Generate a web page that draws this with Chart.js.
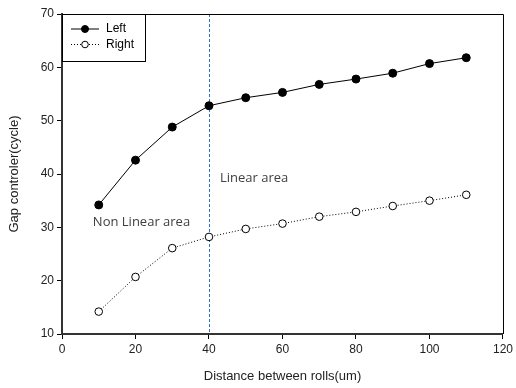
<!DOCTYPE html>
<html><head><meta charset="utf-8">
<script src="https://cdn.jsdelivr.net/npm/chart.js@4/dist/chart.umd.min.js"></script>
<style>html,body{margin:0;padding:0;background:#fff}#w{width:516px;height:388px}</style>
</head><body><div id="w"><canvas id="c" width="516" height="388"></canvas></div>
<script>
const distances = [10,20,30,40,50,60,70,80,90,100,110];
const leftValues = [34.2,42.6,48.8,52.8,54.3,55.3,56.8,57.8,58.9,60.7,61.8];
const rightValues = [14.2,20.7,26.1,28.2,29.7,30.7,32.0,32.9,34.0,35.0,36.1];
const xTicks = [0,20,40,60,80,100,120];
const yTicks = [10,20,30,40,50,60,70];
const boundaryX = 40;
const annotations = [{text:'Linear area', x:43, y:39.2},{text:'Non Linear area', x:8.4, y:31.0}];

const font = 'Liberation Sans, Arial, sans-serif';
const mk = (xs, ys) => xs.map((x,i)=>({x, y: ys[i]}));

const overlay = {
  id:'overlay',
  beforeDatasetsDraw(chart){
    const {ctx, chartArea:a, scales:{x}} = chart;
    ctx.save();
    const bx = Math.round(x.getPixelForValue(boundaryX))+0.5;
    ctx.strokeStyle='#2f6fd0'; ctx.lineWidth=1; ctx.setLineDash([3,2]);
    ctx.beginPath(); ctx.moveTo(bx, a.top); ctx.lineTo(bx, a.bottom); ctx.stroke();
    ctx.restore();
  },
  afterDatasetsDraw(chart){
    const {ctx, chartArea:a, scales:{x,y}} = chart;
    ctx.save();
    ctx.strokeStyle='#000'; ctx.lineWidth=1;
    ctx.beginPath();
    ctx.moveTo(a.left, a.top+0.5); ctx.lineTo(a.right+0.5, a.top+0.5); ctx.lineTo(a.right+0.5, a.bottom);
    ctx.stroke();
    ctx.fillStyle='#404040'; ctx.font='13px "Open Sans", Calibri, sans-serif';
    ctx.textBaseline='middle'; ctx.textAlign='left';
    annotations.forEach(t=>ctx.fillText(t.text, x.getPixelForValue(t.x), y.getPixelForValue(t.y)));
    const lx=a.left, ly=a.top, lw=83, lh=47;
    ctx.fillStyle='#fff'; ctx.fillRect(lx,ly,lw,lh);
    ctx.strokeStyle='#000'; ctx.lineWidth=1;
    ctx.strokeRect(lx+0.5, ly+0.5, lw, lh);
    ctx.font='12px '+font; ctx.fillStyle='#000';
    chart.data.datasets.forEach((ds,i)=>{
      const cy = ly + 15 + i*15.5;
      ctx.strokeStyle='#000'; ctx.lineWidth=1;
      ctx.setLineDash(ds.borderDash||[]);
      ctx.beginPath(); ctx.moveTo(lx+9, cy); ctx.lineTo(lx+37, cy); ctx.stroke();
      ctx.setLineDash([]);
      ctx.beginPath(); ctx.arc(lx+23, cy, ds.pointRadius-0.5, 0, Math.PI*2);
      ctx.fillStyle=ds.pointBackgroundColor; ctx.fill(); ctx.stroke();
      ctx.fillStyle='#000'; ctx.fillText(ds.label, lx+44, cy);
    });
    ctx.restore();
  }
};

new Chart(document.getElementById('c'), {
  type:'line',
  data:{datasets:[
    {label:'Left', data:mk(distances,leftValues), borderColor:'#000', borderWidth:1, pointRadius:4, pointBackgroundColor:'#000', pointBorderColor:'#000', pointBorderWidth:1, tension:0},
    {label:'Right', data:mk(distances,rightValues), borderColor:'#000', borderWidth:1, borderDash:[1,2], pointRadius:3.8, pointBackgroundColor:'#fff', pointBorderColor:'#000', pointBorderWidth:1, tension:0}
  ]},
  options:{
    responsive:false, animation:false, devicePixelRatio:1,
    layout:{padding:{top:14,right:10,left:0,bottom:0}},
    plugins:{legend:{display:false}, tooltip:{enabled:false}},
    scales:{
      x:{type:'linear', min:0, max:120,
        afterBuildTicks(s){ s.ticks = xTicks.map(v=>({value:v})); },
        afterFit(s){ s.height=54; },
        grid:{drawOnChartArea:false, tickLength:5, color:'#000', tickColor:'#000'},
        border:{color:'#333', width:2},
        ticks:{color:'#222', font:{family:font, size:12}, padding:3, maxRotation:0},
        title:{display:true, text:'Distance between rolls(um)', color:'#222', font:{family:font, size:13}, padding:{top:6}}
      },
      y:{type:'linear', min:10, max:70,
        afterBuildTicks(s){ s.ticks = yTicks.map(v=>({value:v})); },
        afterFit(s){ s.width=62; },
        grid:{drawOnChartArea:false, tickLength:5, color:'#000', tickColor:'#000'},
        border:{color:'#333', width:2},
        ticks:{color:'#222', font:{family:font, size:12}, padding:3},
        title:{display:true, text:'Gap controler(cycle)', color:'#222', font:{family:font, size:13}, padding:{top:7, bottom:4}}
      }
    }
  },
  plugins:[overlay]
});
</script></body></html>
